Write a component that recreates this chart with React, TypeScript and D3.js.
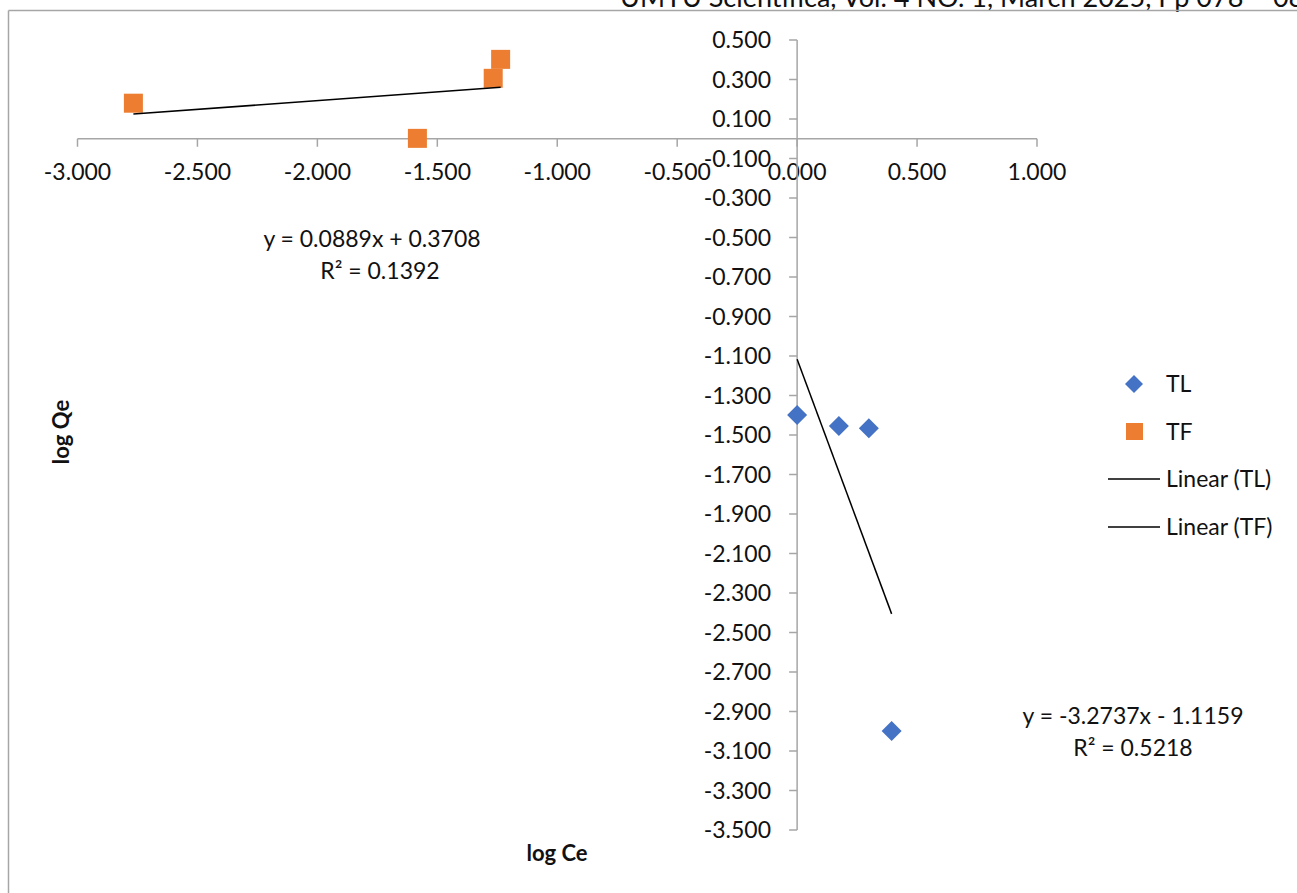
import React, { useEffect } from "react";
import * as d3 from "d3";

// TL series (blue diamonds)
const tlLogCe = [0.0, 0.174, 0.299, 0.394];
const tlLogQe = [-1.399, -1.454, -1.466, -2.999];
// TF series (orange squares)
const tfLogCe = [-2.767, -1.583, -1.267, -1.236];
const tfLogQe = [0.18, 0.002, 0.306, 0.402];

// Linear trendline coefficients as reported
const tlSlope = -3.2737;
const tlIntercept = -1.1159;
const tlR2 = "0.5218";
const tfSlope = 0.0889;
const tfIntercept = 0.3708;
const tfR2 = "0.1392";

const xTicks = [-3, -2.5, -2, -1.5, -1, -0.5, 0, 0.5, 1];
const yTicks = [0.5, 0.3, 0.1, -0.1, -0.3, -0.5, -0.7, -0.9, -1.1, -1.3, -1.5, -1.7, -1.9, -2.1, -2.3, -2.5, -2.7, -2.9, -3.1, -3.3, -3.5];

const W = 1297;
const H = 893;
const FONT = "Lato, 'Open Sans', sans-serif";
const BLUE = "#4472C4";
const ORANGE = "#ED7D31";
const AXIS = "#a6a6a6";

const fmt = (v: number) => (Math.abs(v) < 1e-9 ? 0 : v).toFixed(3);

export default function App() {
  useEffect(() => {
    document.body.style.margin = "0";
  }, []);

  const x = d3.scaleLinear().domain([-3, 1]).range([77.5, 1037]);
  const y = d3.scaleLinear().domain([0.5, -3.5]).range([40, 830]);
  const x0 = x(0);
  const y0 = y(0);

  const diamond = d3.symbol().type(d3.symbolDiamond2);
  const line = d3.line<[number, number]>().x((d) => x(d[0])).y((d) => y(d[1]));

  const trend = (xs: number[], m: number, b: number): [number, number][] => {
    const lo = d3.min(xs) as number;
    const hi = d3.max(xs) as number;
    return [
      [lo, m * lo + b],
      [hi, m * hi + b],
    ];
  };

  const diamondPath = (size: number) => {
    const h = size / 2;
    return `M0,${-h}L${h},0L0,${h}L${-h},0Z`;
  };

  return (
    <svg width={W} height={H} style={{ display: "block", position: "absolute", left: 0, top: 0 }} fontFamily={FONT}>
      <rect width={W} height={H} fill="#fff" />
      {/* page header, cut at the top edge */}
      <text x={620} y={7} fontSize={26} fill="#111" textLength={700} lengthAdjust="spacingAndGlyphs">
        UMYU Scientifica, Vol. 4 NO. 1, March 2025, Pp 078 – 086
      </text>
      {/* chart frame */}
      <line x1={8.5} y1={10.5} x2={W} y2={10.5} stroke={AXIS} strokeWidth={1.5} />
      <line x1={8.5} y1={10.5} x2={8.5} y2={H} stroke={AXIS} strokeWidth={1.5} />

      {/* x axis */}
      <line x1={x(-3)} y1={y0} x2={x(1)} y2={y0} stroke={AXIS} strokeWidth={1.5} />
      {xTicks.map((t) => (
        <g key={"xt" + t}>
          <line x1={x(t)} x2={x(t)} y1={y0} y2={y0 + 8} stroke={AXIS} strokeWidth={1.5} />
          <text x={x(t)} y={180} textAnchor="middle" fontSize={23} fill="#111">
            {fmt(t)}
          </text>
        </g>
      ))}

      {/* y axis */}
      <line x1={x0} y1={y(0.5)} x2={x0} y2={y(-3.5)} stroke={AXIS} strokeWidth={1.5} />
      {yTicks.map((t) => (
        <g key={"yt" + t}>
          <line x1={x0 - 8} x2={x0} y1={y(t)} y2={y(t)} stroke={AXIS} strokeWidth={1.5} />
          <text x={771} y={y(t) + 8} textAnchor="end" fontSize={23} fill="#111">
            {fmt(t)}
          </text>
        </g>
      ))}

      {/* axis titles */}
      <text x={557} y={861} textAnchor="middle" fontSize={22} fontWeight="bold" fill="#111">
        log Ce
      </text>
      <text transform="translate(69,432) rotate(-90)" textAnchor="middle" fontSize={22} fontWeight="bold" fill="#111">
        log Qe
      </text>

      {/* TF squares */}
      {tfLogCe.map((v, i) => (
        <rect key={"tf" + i} x={x(v) - 9.5} y={y(tfLogQe[i]) - 9.5} width={19} height={19} fill={ORANGE} />
      ))}
      {/* TL diamonds */}
      {tlLogCe.map((v, i) => (
        <path key={"tl" + i} d={diamondPath(20)} transform={`translate(${x(v)},${y(tlLogQe[i])})`} fill={BLUE} />
      ))}

      {/* trendlines */}
      <path d={line(trend(tlLogCe, tlSlope, tlIntercept)) || ""} stroke="#000" strokeWidth={1.5} fill="none" />
      <path d={line(trend(tfLogCe, tfSlope, tfIntercept)) || ""} stroke="#000" strokeWidth={1.5} fill="none" />

      {/* trendline equations */}
      <text x={372} y={247} textAnchor="middle" fontSize={23} fill="#111">
        {`y = ${tfSlope}x + ${tfIntercept}`}
      </text>
      <text x={380} y={279} textAnchor="middle" fontSize={23} fill="#111">
        {`R² = ${tfR2}`}
      </text>
      <text x={1133} y={724} textAnchor="middle" fontSize={23} fill="#111">
        {`y = ${tlSlope}x - ${Math.abs(tlIntercept)}`}
      </text>
      <text x={1133} y={756} textAnchor="middle" fontSize={23} fill="#111">
        {`R² = ${tlR2}`}
      </text>

      {/* legend */}
      <g fontSize={23} fill="#111">
        <path d={diamondPath(18)} transform="translate(1134,384)" fill={BLUE} />
        <text x={1166} y={392}>TL</text>
        <rect x={1126} y={423} width={17} height={17} fill={ORANGE} />
        <text x={1166} y={440}>TF</text>
        <line x1={1108} x2={1160} y1={479} y2={479} stroke="#000" strokeWidth={1.5} />
        <text x={1166} y={487}>Linear (TL)</text>
        <line x1={1108} x2={1160} y1={527} y2={527} stroke="#000" strokeWidth={1.5} />
        <text x={1166} y={535}>Linear (TF)</text>
      </g>
    </svg>
  );
}
